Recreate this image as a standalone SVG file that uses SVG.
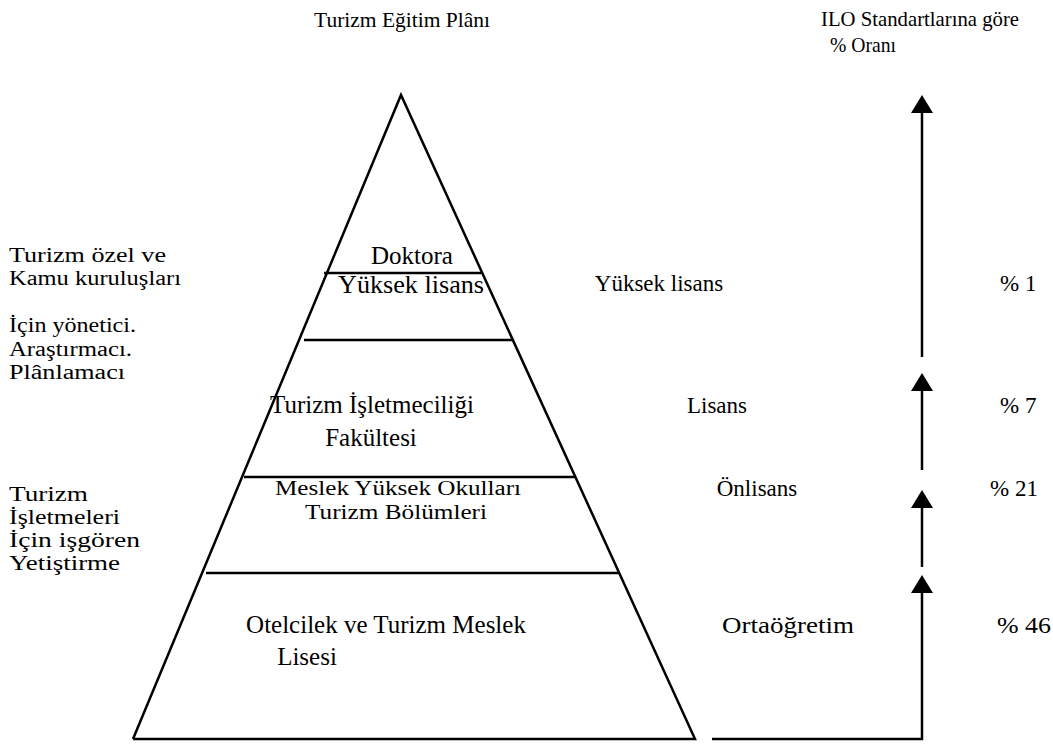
<svg xmlns="http://www.w3.org/2000/svg" width="1053" height="744" viewBox="0 0 1053 744">
<style>
text{font-family:"Liberation Serif","Times New Roman",serif;font-size:23px;fill:#000}
.c{text-anchor:middle}
.p{font-size:25px}
.q{font-size:20.5px}
.l{font-size:20px}
.h{font-size:21.5px}
.ln{stroke:#000;stroke-width:2.5;fill:none}
.ah{fill:#000}
</style>
<rect width="1053" height="744" fill="#fff"/>
<g id="titles">
<text x="402" y="27" class="c h">Turizm Eğitim Plânı</text>
<text x="821" y="26" class="h" textLength="198" lengthAdjust="spacingAndGlyphs">ILO Standartlarına göre</text>
<text x="830" y="52" class="h" textLength="66" lengthAdjust="spacingAndGlyphs">% Oranı</text>
</g>
<g id="pyramid">
<polyline class="ln" points="133,739 401,95 695,739 133,739"/>
<line class="ln" x1="324" y1="273" x2="481" y2="273"/>
<line class="ln" x1="304" y1="340" x2="514" y2="340"/>
<line class="ln" x1="244" y1="477" x2="576" y2="477"/>
<line class="ln" x1="206" y1="573" x2="619" y2="573"/>
</g>
<g id="level-doktora">
<text x="412" y="264" class="c p">Doktora</text>
<text x="411" y="293" class="c p" textLength="146" lengthAdjust="spacingAndGlyphs">Yüksek lisans</text>
</g>
<g id="level-lisans">
<text x="372" y="413" class="c p">Turizm İşletmeciliği</text>
<text x="371" y="446" class="c p">Fakültesi</text>
</g>
<g id="level-onlisans">
<text x="398" y="495" class="c q" textLength="246" lengthAdjust="spacingAndGlyphs">Meslek Yüksek Okulları</text>
<text x="396" y="519" class="c q" textLength="182" lengthAdjust="spacingAndGlyphs">Turizm Bölümleri</text>
</g>
<g id="level-orta">
<text x="386" y="633" class="c p">Otelcilek ve Turizm Meslek</text>
<text x="307" y="665" class="c p">Lisesi</text>
</g>
<g id="left-upper">
<text x="9" y="262" class="l" textLength="157" lengthAdjust="spacingAndGlyphs">Turizm özel ve</text>
<text x="9" y="285" class="l" textLength="172" lengthAdjust="spacingAndGlyphs">Kamu kuruluşları</text>
<text x="9" y="332" class="l" textLength="127" lengthAdjust="spacingAndGlyphs">İçin yönetici.</text>
<text x="9" y="356" class="l" textLength="123" lengthAdjust="spacingAndGlyphs">Araştırmacı.</text>
<text x="9" y="379" class="l" textLength="116" lengthAdjust="spacingAndGlyphs">Plânlamacı</text>
</g>
<g id="left-lower">
<text x="9" y="501" class="l" textLength="79" lengthAdjust="spacingAndGlyphs">Turizm</text>
<text x="9" y="524" class="l" textLength="111" lengthAdjust="spacingAndGlyphs">İşletmeleri</text>
<text x="9" y="547" class="l" textLength="131" lengthAdjust="spacingAndGlyphs">İçin işgören</text>
<text x="9" y="570" class="l" textLength="111" lengthAdjust="spacingAndGlyphs">Yetiştirme</text>
</g>
<g id="right-labels">
<text x="659" y="291" class="c">Yüksek lisans</text>
<text x="717" y="413" class="c">Lisans</text>
<text x="757" y="496" class="c">Önlisans</text>
<text x="788" y="633" class="c" textLength="132" lengthAdjust="spacingAndGlyphs">Ortaöğretim</text>
<text x="1000" y="291">% 1</text>
<text x="1000" y="413">% 7</text>
<text x="990" y="496">% 21</text>
<text x="997" y="633" textLength="54" lengthAdjust="spacingAndGlyphs">% 46</text>
</g>
<g id="connectors">
<line class="ln" x1="922" y1="110" x2="922" y2="357"/>
<polygon class="ah" points="922,95 911,113 933,113"/>
<line class="ln" x1="922" y1="388" x2="922" y2="470"/>
<polygon class="ah" points="922,373 911,391 933,391"/>
<line class="ln" x1="922" y1="505" x2="922" y2="567"/>
<polygon class="ah" points="922,490 911,508 933,508"/>
<polyline class="ln" points="922,590 922,739 712,739"/>
<polygon class="ah" points="922,575 911,593 933,593"/>
</g>
</svg>
